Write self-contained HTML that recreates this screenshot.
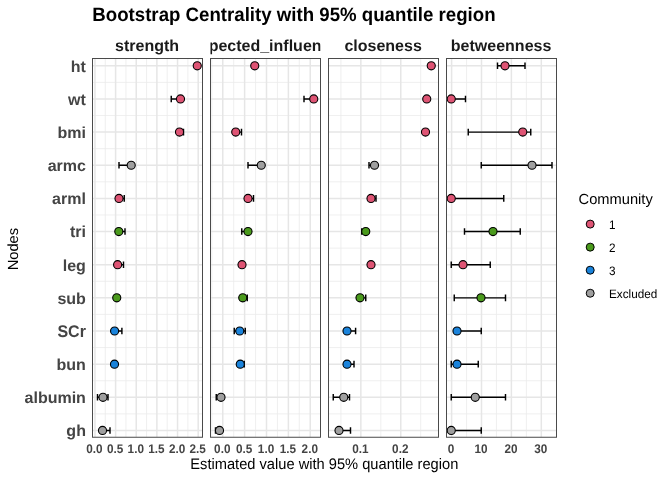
<!DOCTYPE html>
<html lang="en"><head><meta charset="utf-8"><title>Bootstrap Centrality</title>
<style>html,body{margin:0;padding:0;background:#fff}svg{display:block}text{font-family:"Liberation Sans",Arial,Helvetica,sans-serif;text-rendering:geometricPrecision}</style></head><body>
<svg width="672" height="480" viewBox="0 0 672 480">
<rect width="672" height="480" fill="#fff"/>
<defs>
<clipPath id="c0"><rect x="92.50" y="58.5" width="110.00" height="378.75"/></clipPath>
<clipPath id="c1"><rect x="210.50" y="58.5" width="110.00" height="378.75"/></clipPath>
<clipPath id="c2"><rect x="328.50" y="58.5" width="110.00" height="378.75"/></clipPath>
<clipPath id="c3"><rect x="446.50" y="58.5" width="110.00" height="378.75"/></clipPath>
</defs>
<text transform="translate(92.3,21.05) scale(1,1.035)" font-size="18.67" font-weight="bold" fill="#000">Bootstrap Centrality with 95% quantile region</text>
<g clip-path="url(#c0)">
<line x1="92.50" x2="202.50" y1="82.38" y2="82.38" stroke="#EBEBEB" stroke-width="0.8"/>
<line x1="92.50" x2="202.50" y1="115.52" y2="115.52" stroke="#EBEBEB" stroke-width="0.8"/>
<line x1="92.50" x2="202.50" y1="148.67" y2="148.67" stroke="#EBEBEB" stroke-width="0.8"/>
<line x1="92.50" x2="202.50" y1="181.82" y2="181.82" stroke="#EBEBEB" stroke-width="0.8"/>
<line x1="92.50" x2="202.50" y1="214.97" y2="214.97" stroke="#EBEBEB" stroke-width="0.8"/>
<line x1="92.50" x2="202.50" y1="248.12" y2="248.12" stroke="#EBEBEB" stroke-width="0.8"/>
<line x1="92.50" x2="202.50" y1="281.27" y2="281.27" stroke="#EBEBEB" stroke-width="0.8"/>
<line x1="92.50" x2="202.50" y1="314.42" y2="314.42" stroke="#EBEBEB" stroke-width="0.8"/>
<line x1="92.50" x2="202.50" y1="347.57" y2="347.57" stroke="#EBEBEB" stroke-width="0.8"/>
<line x1="92.50" x2="202.50" y1="380.72" y2="380.72" stroke="#EBEBEB" stroke-width="0.8"/>
<line x1="92.50" x2="202.50" y1="413.88" y2="413.88" stroke="#EBEBEB" stroke-width="0.8"/>
<line x1="105.28" x2="105.28" y1="58.5" y2="437.25" stroke="#EBEBEB" stroke-width="0.8"/>
<line x1="125.92" x2="125.92" y1="58.5" y2="437.25" stroke="#EBEBEB" stroke-width="0.8"/>
<line x1="146.57" x2="146.57" y1="58.5" y2="437.25" stroke="#EBEBEB" stroke-width="0.8"/>
<line x1="167.22" x2="167.22" y1="58.5" y2="437.25" stroke="#EBEBEB" stroke-width="0.8"/>
<line x1="187.88" x2="187.88" y1="58.5" y2="437.25" stroke="#EBEBEB" stroke-width="0.8"/>
<line x1="92.50" x2="202.50" y1="65.80" y2="65.80" stroke="#E6E6E6" stroke-width="1.5"/>
<line x1="92.50" x2="202.50" y1="98.95" y2="98.95" stroke="#E6E6E6" stroke-width="1.5"/>
<line x1="92.50" x2="202.50" y1="132.10" y2="132.10" stroke="#E6E6E6" stroke-width="1.5"/>
<line x1="92.50" x2="202.50" y1="165.25" y2="165.25" stroke="#E6E6E6" stroke-width="1.5"/>
<line x1="92.50" x2="202.50" y1="198.40" y2="198.40" stroke="#E6E6E6" stroke-width="1.5"/>
<line x1="92.50" x2="202.50" y1="231.55" y2="231.55" stroke="#E6E6E6" stroke-width="1.5"/>
<line x1="92.50" x2="202.50" y1="264.70" y2="264.70" stroke="#E6E6E6" stroke-width="1.5"/>
<line x1="92.50" x2="202.50" y1="297.85" y2="297.85" stroke="#E6E6E6" stroke-width="1.5"/>
<line x1="92.50" x2="202.50" y1="331.00" y2="331.00" stroke="#E6E6E6" stroke-width="1.5"/>
<line x1="92.50" x2="202.50" y1="364.15" y2="364.15" stroke="#E6E6E6" stroke-width="1.5"/>
<line x1="92.50" x2="202.50" y1="397.30" y2="397.30" stroke="#E6E6E6" stroke-width="1.5"/>
<line x1="92.50" x2="202.50" y1="430.45" y2="430.45" stroke="#E6E6E6" stroke-width="1.5"/>
<line x1="94.95" x2="94.95" y1="58.5" y2="437.25" stroke="#E6E6E6" stroke-width="1.5"/>
<line x1="115.60" x2="115.60" y1="58.5" y2="437.25" stroke="#E6E6E6" stroke-width="1.5"/>
<line x1="136.25" x2="136.25" y1="58.5" y2="437.25" stroke="#E6E6E6" stroke-width="1.5"/>
<line x1="156.90" x2="156.90" y1="58.5" y2="437.25" stroke="#E6E6E6" stroke-width="1.5"/>
<line x1="177.55" x2="177.55" y1="58.5" y2="437.25" stroke="#E6E6E6" stroke-width="1.5"/>
<line x1="198.20" x2="198.20" y1="58.5" y2="437.25" stroke="#E6E6E6" stroke-width="1.5"/>
<line x1="171.25" x2="180.50" y1="98.95" y2="98.95" stroke="#000" stroke-width="1.45"/>
<line x1="171.25" x2="171.25" y1="95.65" y2="102.25" stroke="#000" stroke-width="1.45"/>
<line x1="179.50" x2="183.50" y1="132.10" y2="132.10" stroke="#000" stroke-width="1.45"/>
<line x1="183.50" x2="183.50" y1="128.80" y2="135.40" stroke="#000" stroke-width="1.45"/>
<line x1="119.00" x2="131.20" y1="165.25" y2="165.25" stroke="#000" stroke-width="1.45"/>
<line x1="119.00" x2="119.00" y1="161.95" y2="168.55" stroke="#000" stroke-width="1.45"/>
<line x1="119.00" x2="124.25" y1="198.40" y2="198.40" stroke="#000" stroke-width="1.45"/>
<line x1="124.25" x2="124.25" y1="195.10" y2="201.70" stroke="#000" stroke-width="1.45"/>
<line x1="118.80" x2="125.00" y1="231.55" y2="231.55" stroke="#000" stroke-width="1.45"/>
<line x1="125.00" x2="125.00" y1="228.25" y2="234.85" stroke="#000" stroke-width="1.45"/>
<line x1="117.60" x2="123.50" y1="264.70" y2="264.70" stroke="#000" stroke-width="1.45"/>
<line x1="123.50" x2="123.50" y1="261.40" y2="268.00" stroke="#000" stroke-width="1.45"/>
<line x1="114.60" x2="121.90" y1="331.00" y2="331.00" stroke="#000" stroke-width="1.45"/>
<line x1="121.90" x2="121.90" y1="327.70" y2="334.30" stroke="#000" stroke-width="1.45"/>
<line x1="97.50" x2="108.00" y1="397.30" y2="397.30" stroke="#000" stroke-width="1.45"/>
<line x1="97.50" x2="97.50" y1="394.00" y2="400.60" stroke="#000" stroke-width="1.45"/>
<line x1="108.00" x2="108.00" y1="394.00" y2="400.60" stroke="#000" stroke-width="1.45"/>
<line x1="102.50" x2="110.00" y1="430.45" y2="430.45" stroke="#000" stroke-width="1.45"/>
<line x1="110.00" x2="110.00" y1="427.15" y2="433.75" stroke="#000" stroke-width="1.45"/>
<circle cx="197.25" cy="65.80" r="4.05" fill="#DE5474" stroke="#000" stroke-width="1.1"/>
<circle cx="180.50" cy="98.95" r="4.05" fill="#DE5474" stroke="#000" stroke-width="1.1"/>
<circle cx="179.50" cy="132.10" r="4.05" fill="#DE5474" stroke="#000" stroke-width="1.1"/>
<circle cx="131.20" cy="165.25" r="4.05" fill="#9F9F9F" stroke="#000" stroke-width="1.1"/>
<circle cx="119.00" cy="198.40" r="4.05" fill="#DE5474" stroke="#000" stroke-width="1.1"/>
<circle cx="118.80" cy="231.55" r="4.05" fill="#4A9A1C" stroke="#000" stroke-width="1.1"/>
<circle cx="117.60" cy="264.70" r="4.05" fill="#DE5474" stroke="#000" stroke-width="1.1"/>
<circle cx="116.75" cy="297.85" r="4.05" fill="#4A9A1C" stroke="#000" stroke-width="1.1"/>
<circle cx="114.60" cy="331.00" r="4.05" fill="#1A83DB" stroke="#000" stroke-width="1.1"/>
<circle cx="114.50" cy="364.15" r="4.05" fill="#1A83DB" stroke="#000" stroke-width="1.1"/>
<circle cx="103.00" cy="397.30" r="4.05" fill="#9F9F9F" stroke="#000" stroke-width="1.1"/>
<circle cx="102.50" cy="430.45" r="4.05" fill="#9F9F9F" stroke="#000" stroke-width="1.1"/>
</g>
<rect x="92.50" y="58.5" width="110.00" height="378.75" fill="none" stroke="#4A4A4A" stroke-width="1"/>
<svg x="92.50" y="36" width="110.00" height="22" viewBox="92.50 36 110.00 22" overflow="hidden"><text x="147.10" y="50.85" font-size="16" font-weight="bold" fill="#1A1A1A" text-anchor="middle">strength</text></svg>
<text transform="translate(94.45,452.6) scale(1,1.07)" font-size="11.73" font-weight="bold" fill="#444" text-anchor="middle">0.0</text>
<text transform="translate(115.10,452.6) scale(1,1.07)" font-size="11.73" font-weight="bold" fill="#444" text-anchor="middle">0.5</text>
<text transform="translate(135.75,452.6) scale(1,1.07)" font-size="11.73" font-weight="bold" fill="#444" text-anchor="middle">1.0</text>
<text transform="translate(156.40,452.6) scale(1,1.07)" font-size="11.73" font-weight="bold" fill="#444" text-anchor="middle">1.5</text>
<text transform="translate(177.05,452.6) scale(1,1.07)" font-size="11.73" font-weight="bold" fill="#444" text-anchor="middle">2.0</text>
<text transform="translate(197.70,452.6) scale(1,1.07)" font-size="11.73" font-weight="bold" fill="#444" text-anchor="middle">2.5</text>
<g clip-path="url(#c1)">
<line x1="210.50" x2="320.50" y1="82.38" y2="82.38" stroke="#EBEBEB" stroke-width="0.8"/>
<line x1="210.50" x2="320.50" y1="115.52" y2="115.52" stroke="#EBEBEB" stroke-width="0.8"/>
<line x1="210.50" x2="320.50" y1="148.67" y2="148.67" stroke="#EBEBEB" stroke-width="0.8"/>
<line x1="210.50" x2="320.50" y1="181.82" y2="181.82" stroke="#EBEBEB" stroke-width="0.8"/>
<line x1="210.50" x2="320.50" y1="214.97" y2="214.97" stroke="#EBEBEB" stroke-width="0.8"/>
<line x1="210.50" x2="320.50" y1="248.12" y2="248.12" stroke="#EBEBEB" stroke-width="0.8"/>
<line x1="210.50" x2="320.50" y1="281.27" y2="281.27" stroke="#EBEBEB" stroke-width="0.8"/>
<line x1="210.50" x2="320.50" y1="314.42" y2="314.42" stroke="#EBEBEB" stroke-width="0.8"/>
<line x1="210.50" x2="320.50" y1="347.57" y2="347.57" stroke="#EBEBEB" stroke-width="0.8"/>
<line x1="210.50" x2="320.50" y1="380.72" y2="380.72" stroke="#EBEBEB" stroke-width="0.8"/>
<line x1="210.50" x2="320.50" y1="413.88" y2="413.88" stroke="#EBEBEB" stroke-width="0.8"/>
<line x1="211.81" x2="211.81" y1="58.5" y2="437.25" stroke="#EBEBEB" stroke-width="0.8"/>
<line x1="233.69" x2="233.69" y1="58.5" y2="437.25" stroke="#EBEBEB" stroke-width="0.8"/>
<line x1="255.56" x2="255.56" y1="58.5" y2="437.25" stroke="#EBEBEB" stroke-width="0.8"/>
<line x1="277.44" x2="277.44" y1="58.5" y2="437.25" stroke="#EBEBEB" stroke-width="0.8"/>
<line x1="299.31" x2="299.31" y1="58.5" y2="437.25" stroke="#EBEBEB" stroke-width="0.8"/>
<line x1="210.50" x2="320.50" y1="65.80" y2="65.80" stroke="#E6E6E6" stroke-width="1.5"/>
<line x1="210.50" x2="320.50" y1="98.95" y2="98.95" stroke="#E6E6E6" stroke-width="1.5"/>
<line x1="210.50" x2="320.50" y1="132.10" y2="132.10" stroke="#E6E6E6" stroke-width="1.5"/>
<line x1="210.50" x2="320.50" y1="165.25" y2="165.25" stroke="#E6E6E6" stroke-width="1.5"/>
<line x1="210.50" x2="320.50" y1="198.40" y2="198.40" stroke="#E6E6E6" stroke-width="1.5"/>
<line x1="210.50" x2="320.50" y1="231.55" y2="231.55" stroke="#E6E6E6" stroke-width="1.5"/>
<line x1="210.50" x2="320.50" y1="264.70" y2="264.70" stroke="#E6E6E6" stroke-width="1.5"/>
<line x1="210.50" x2="320.50" y1="297.85" y2="297.85" stroke="#E6E6E6" stroke-width="1.5"/>
<line x1="210.50" x2="320.50" y1="331.00" y2="331.00" stroke="#E6E6E6" stroke-width="1.5"/>
<line x1="210.50" x2="320.50" y1="364.15" y2="364.15" stroke="#E6E6E6" stroke-width="1.5"/>
<line x1="210.50" x2="320.50" y1="397.30" y2="397.30" stroke="#E6E6E6" stroke-width="1.5"/>
<line x1="210.50" x2="320.50" y1="430.45" y2="430.45" stroke="#E6E6E6" stroke-width="1.5"/>
<line x1="222.75" x2="222.75" y1="58.5" y2="437.25" stroke="#E6E6E6" stroke-width="1.5"/>
<line x1="244.62" x2="244.62" y1="58.5" y2="437.25" stroke="#E6E6E6" stroke-width="1.5"/>
<line x1="266.50" x2="266.50" y1="58.5" y2="437.25" stroke="#E6E6E6" stroke-width="1.5"/>
<line x1="288.38" x2="288.38" y1="58.5" y2="437.25" stroke="#E6E6E6" stroke-width="1.5"/>
<line x1="310.25" x2="310.25" y1="58.5" y2="437.25" stroke="#E6E6E6" stroke-width="1.5"/>
<line x1="304.00" x2="313.75" y1="98.95" y2="98.95" stroke="#000" stroke-width="1.45"/>
<line x1="304.00" x2="304.00" y1="95.65" y2="102.25" stroke="#000" stroke-width="1.45"/>
<line x1="235.75" x2="241.50" y1="132.10" y2="132.10" stroke="#000" stroke-width="1.45"/>
<line x1="241.50" x2="241.50" y1="128.80" y2="135.40" stroke="#000" stroke-width="1.45"/>
<line x1="248.00" x2="261.25" y1="165.25" y2="165.25" stroke="#000" stroke-width="1.45"/>
<line x1="248.00" x2="248.00" y1="161.95" y2="168.55" stroke="#000" stroke-width="1.45"/>
<line x1="248.00" x2="253.50" y1="198.40" y2="198.40" stroke="#000" stroke-width="1.45"/>
<line x1="253.50" x2="253.50" y1="195.10" y2="201.70" stroke="#000" stroke-width="1.45"/>
<line x1="241.75" x2="248.00" y1="231.55" y2="231.55" stroke="#000" stroke-width="1.45"/>
<line x1="241.75" x2="241.75" y1="228.25" y2="234.85" stroke="#000" stroke-width="1.45"/>
<line x1="242.75" x2="247.25" y1="297.85" y2="297.85" stroke="#000" stroke-width="1.45"/>
<line x1="247.25" x2="247.25" y1="294.55" y2="301.15" stroke="#000" stroke-width="1.45"/>
<line x1="234.25" x2="245.25" y1="331.00" y2="331.00" stroke="#000" stroke-width="1.45"/>
<line x1="234.25" x2="234.25" y1="327.70" y2="334.30" stroke="#000" stroke-width="1.45"/>
<line x1="245.25" x2="245.25" y1="327.70" y2="334.30" stroke="#000" stroke-width="1.45"/>
<line x1="240.25" x2="244.25" y1="364.15" y2="364.15" stroke="#000" stroke-width="1.45"/>
<line x1="244.25" x2="244.25" y1="360.85" y2="367.45" stroke="#000" stroke-width="1.45"/>
<line x1="216.25" x2="221.00" y1="397.30" y2="397.30" stroke="#000" stroke-width="1.45"/>
<line x1="216.25" x2="216.25" y1="394.00" y2="400.60" stroke="#000" stroke-width="1.45"/>
<line x1="215.50" x2="219.50" y1="430.45" y2="430.45" stroke="#000" stroke-width="1.45"/>
<line x1="215.50" x2="215.50" y1="427.15" y2="433.75" stroke="#000" stroke-width="1.45"/>
<circle cx="254.75" cy="65.80" r="4.05" fill="#DE5474" stroke="#000" stroke-width="1.1"/>
<circle cx="313.75" cy="98.95" r="4.05" fill="#DE5474" stroke="#000" stroke-width="1.1"/>
<circle cx="235.75" cy="132.10" r="4.05" fill="#DE5474" stroke="#000" stroke-width="1.1"/>
<circle cx="261.25" cy="165.25" r="4.05" fill="#9F9F9F" stroke="#000" stroke-width="1.1"/>
<circle cx="248.00" cy="198.40" r="4.05" fill="#DE5474" stroke="#000" stroke-width="1.1"/>
<circle cx="248.00" cy="231.55" r="4.05" fill="#4A9A1C" stroke="#000" stroke-width="1.1"/>
<circle cx="242.00" cy="264.70" r="4.05" fill="#DE5474" stroke="#000" stroke-width="1.1"/>
<circle cx="242.75" cy="297.85" r="4.05" fill="#4A9A1C" stroke="#000" stroke-width="1.1"/>
<circle cx="239.75" cy="331.00" r="4.05" fill="#1A83DB" stroke="#000" stroke-width="1.1"/>
<circle cx="240.25" cy="364.15" r="4.05" fill="#1A83DB" stroke="#000" stroke-width="1.1"/>
<circle cx="221.00" cy="397.30" r="4.05" fill="#9F9F9F" stroke="#000" stroke-width="1.1"/>
<circle cx="219.50" cy="430.45" r="4.05" fill="#9F9F9F" stroke="#000" stroke-width="1.1"/>
</g>
<rect x="210.50" y="58.5" width="110.00" height="378.75" fill="none" stroke="#4A4A4A" stroke-width="1"/>
<svg x="210.50" y="36" width="110.00" height="22" viewBox="210.50 36 110.00 22" overflow="hidden"><text x="265.10" y="50.85" font-size="16" font-weight="bold" fill="#1A1A1A" text-anchor="middle">expected_influence</text></svg>
<text transform="translate(222.25,452.6) scale(1,1.07)" font-size="11.73" font-weight="bold" fill="#444" text-anchor="middle">0.0</text>
<text transform="translate(244.12,452.6) scale(1,1.07)" font-size="11.73" font-weight="bold" fill="#444" text-anchor="middle">0.5</text>
<text transform="translate(266.00,452.6) scale(1,1.07)" font-size="11.73" font-weight="bold" fill="#444" text-anchor="middle">1.0</text>
<text transform="translate(287.88,452.6) scale(1,1.07)" font-size="11.73" font-weight="bold" fill="#444" text-anchor="middle">1.5</text>
<text transform="translate(309.75,452.6) scale(1,1.07)" font-size="11.73" font-weight="bold" fill="#444" text-anchor="middle">2.0</text>
<g clip-path="url(#c2)">
<line x1="328.50" x2="438.50" y1="82.38" y2="82.38" stroke="#EBEBEB" stroke-width="0.8"/>
<line x1="328.50" x2="438.50" y1="115.52" y2="115.52" stroke="#EBEBEB" stroke-width="0.8"/>
<line x1="328.50" x2="438.50" y1="148.67" y2="148.67" stroke="#EBEBEB" stroke-width="0.8"/>
<line x1="328.50" x2="438.50" y1="181.82" y2="181.82" stroke="#EBEBEB" stroke-width="0.8"/>
<line x1="328.50" x2="438.50" y1="214.97" y2="214.97" stroke="#EBEBEB" stroke-width="0.8"/>
<line x1="328.50" x2="438.50" y1="248.12" y2="248.12" stroke="#EBEBEB" stroke-width="0.8"/>
<line x1="328.50" x2="438.50" y1="281.27" y2="281.27" stroke="#EBEBEB" stroke-width="0.8"/>
<line x1="328.50" x2="438.50" y1="314.42" y2="314.42" stroke="#EBEBEB" stroke-width="0.8"/>
<line x1="328.50" x2="438.50" y1="347.57" y2="347.57" stroke="#EBEBEB" stroke-width="0.8"/>
<line x1="328.50" x2="438.50" y1="380.72" y2="380.72" stroke="#EBEBEB" stroke-width="0.8"/>
<line x1="328.50" x2="438.50" y1="413.88" y2="413.88" stroke="#EBEBEB" stroke-width="0.8"/>
<line x1="340.90" x2="340.90" y1="58.5" y2="437.25" stroke="#EBEBEB" stroke-width="0.8"/>
<line x1="380.80" x2="380.80" y1="58.5" y2="437.25" stroke="#EBEBEB" stroke-width="0.8"/>
<line x1="420.70" x2="420.70" y1="58.5" y2="437.25" stroke="#EBEBEB" stroke-width="0.8"/>
<line x1="328.50" x2="438.50" y1="65.80" y2="65.80" stroke="#E6E6E6" stroke-width="1.5"/>
<line x1="328.50" x2="438.50" y1="98.95" y2="98.95" stroke="#E6E6E6" stroke-width="1.5"/>
<line x1="328.50" x2="438.50" y1="132.10" y2="132.10" stroke="#E6E6E6" stroke-width="1.5"/>
<line x1="328.50" x2="438.50" y1="165.25" y2="165.25" stroke="#E6E6E6" stroke-width="1.5"/>
<line x1="328.50" x2="438.50" y1="198.40" y2="198.40" stroke="#E6E6E6" stroke-width="1.5"/>
<line x1="328.50" x2="438.50" y1="231.55" y2="231.55" stroke="#E6E6E6" stroke-width="1.5"/>
<line x1="328.50" x2="438.50" y1="264.70" y2="264.70" stroke="#E6E6E6" stroke-width="1.5"/>
<line x1="328.50" x2="438.50" y1="297.85" y2="297.85" stroke="#E6E6E6" stroke-width="1.5"/>
<line x1="328.50" x2="438.50" y1="331.00" y2="331.00" stroke="#E6E6E6" stroke-width="1.5"/>
<line x1="328.50" x2="438.50" y1="364.15" y2="364.15" stroke="#E6E6E6" stroke-width="1.5"/>
<line x1="328.50" x2="438.50" y1="397.30" y2="397.30" stroke="#E6E6E6" stroke-width="1.5"/>
<line x1="328.50" x2="438.50" y1="430.45" y2="430.45" stroke="#E6E6E6" stroke-width="1.5"/>
<line x1="360.85" x2="360.85" y1="58.5" y2="437.25" stroke="#E6E6E6" stroke-width="1.5"/>
<line x1="400.75" x2="400.75" y1="58.5" y2="437.25" stroke="#E6E6E6" stroke-width="1.5"/>
<line x1="369.00" x2="374.50" y1="165.25" y2="165.25" stroke="#000" stroke-width="1.45"/>
<line x1="369.00" x2="369.00" y1="161.95" y2="168.55" stroke="#000" stroke-width="1.45"/>
<line x1="371.00" x2="376.00" y1="198.40" y2="198.40" stroke="#000" stroke-width="1.45"/>
<line x1="376.00" x2="376.00" y1="195.10" y2="201.70" stroke="#000" stroke-width="1.45"/>
<line x1="361.75" x2="365.75" y1="231.55" y2="231.55" stroke="#000" stroke-width="1.45"/>
<line x1="361.75" x2="361.75" y1="228.25" y2="234.85" stroke="#000" stroke-width="1.45"/>
<line x1="360.00" x2="365.75" y1="297.85" y2="297.85" stroke="#000" stroke-width="1.45"/>
<line x1="365.75" x2="365.75" y1="294.55" y2="301.15" stroke="#000" stroke-width="1.45"/>
<line x1="347.00" x2="355.60" y1="331.00" y2="331.00" stroke="#000" stroke-width="1.45"/>
<line x1="355.60" x2="355.60" y1="327.70" y2="334.30" stroke="#000" stroke-width="1.45"/>
<line x1="347.00" x2="354.00" y1="364.15" y2="364.15" stroke="#000" stroke-width="1.45"/>
<line x1="354.00" x2="354.00" y1="360.85" y2="367.45" stroke="#000" stroke-width="1.45"/>
<line x1="333.25" x2="349.50" y1="397.30" y2="397.30" stroke="#000" stroke-width="1.45"/>
<line x1="333.25" x2="333.25" y1="394.00" y2="400.60" stroke="#000" stroke-width="1.45"/>
<line x1="349.50" x2="349.50" y1="394.00" y2="400.60" stroke="#000" stroke-width="1.45"/>
<line x1="339.00" x2="350.50" y1="430.45" y2="430.45" stroke="#000" stroke-width="1.45"/>
<line x1="350.50" x2="350.50" y1="427.15" y2="433.75" stroke="#000" stroke-width="1.45"/>
<circle cx="431.25" cy="65.80" r="4.05" fill="#DE5474" stroke="#000" stroke-width="1.1"/>
<circle cx="426.75" cy="98.95" r="4.05" fill="#DE5474" stroke="#000" stroke-width="1.1"/>
<circle cx="425.50" cy="132.10" r="4.05" fill="#DE5474" stroke="#000" stroke-width="1.1"/>
<circle cx="374.50" cy="165.25" r="4.05" fill="#9F9F9F" stroke="#000" stroke-width="1.1"/>
<circle cx="371.00" cy="198.40" r="4.05" fill="#DE5474" stroke="#000" stroke-width="1.1"/>
<circle cx="365.75" cy="231.55" r="4.05" fill="#4A9A1C" stroke="#000" stroke-width="1.1"/>
<circle cx="371.00" cy="264.70" r="4.05" fill="#DE5474" stroke="#000" stroke-width="1.1"/>
<circle cx="360.00" cy="297.85" r="4.05" fill="#4A9A1C" stroke="#000" stroke-width="1.1"/>
<circle cx="347.00" cy="331.00" r="4.05" fill="#1A83DB" stroke="#000" stroke-width="1.1"/>
<circle cx="347.00" cy="364.15" r="4.05" fill="#1A83DB" stroke="#000" stroke-width="1.1"/>
<circle cx="343.75" cy="397.30" r="4.05" fill="#9F9F9F" stroke="#000" stroke-width="1.1"/>
<circle cx="339.00" cy="430.45" r="4.05" fill="#9F9F9F" stroke="#000" stroke-width="1.1"/>
</g>
<rect x="328.50" y="58.5" width="110.00" height="378.75" fill="none" stroke="#4A4A4A" stroke-width="1"/>
<svg x="328.50" y="36" width="110.00" height="22" viewBox="328.50 36 110.00 22" overflow="hidden"><text x="383.10" y="50.85" font-size="16" font-weight="bold" fill="#1A1A1A" text-anchor="middle">closeness</text></svg>
<text transform="translate(360.35,452.6) scale(1,1.07)" font-size="11.73" font-weight="bold" fill="#444" text-anchor="middle">0.1</text>
<text transform="translate(400.25,452.6) scale(1,1.07)" font-size="11.73" font-weight="bold" fill="#444" text-anchor="middle">0.2</text>
<g clip-path="url(#c3)">
<line x1="446.50" x2="556.50" y1="82.38" y2="82.38" stroke="#EBEBEB" stroke-width="0.8"/>
<line x1="446.50" x2="556.50" y1="115.52" y2="115.52" stroke="#EBEBEB" stroke-width="0.8"/>
<line x1="446.50" x2="556.50" y1="148.67" y2="148.67" stroke="#EBEBEB" stroke-width="0.8"/>
<line x1="446.50" x2="556.50" y1="181.82" y2="181.82" stroke="#EBEBEB" stroke-width="0.8"/>
<line x1="446.50" x2="556.50" y1="214.97" y2="214.97" stroke="#EBEBEB" stroke-width="0.8"/>
<line x1="446.50" x2="556.50" y1="248.12" y2="248.12" stroke="#EBEBEB" stroke-width="0.8"/>
<line x1="446.50" x2="556.50" y1="281.27" y2="281.27" stroke="#EBEBEB" stroke-width="0.8"/>
<line x1="446.50" x2="556.50" y1="314.42" y2="314.42" stroke="#EBEBEB" stroke-width="0.8"/>
<line x1="446.50" x2="556.50" y1="347.57" y2="347.57" stroke="#EBEBEB" stroke-width="0.8"/>
<line x1="446.50" x2="556.50" y1="380.72" y2="380.72" stroke="#EBEBEB" stroke-width="0.8"/>
<line x1="446.50" x2="556.50" y1="413.88" y2="413.88" stroke="#EBEBEB" stroke-width="0.8"/>
<line x1="466.55" x2="466.55" y1="58.5" y2="437.25" stroke="#EBEBEB" stroke-width="0.8"/>
<line x1="496.45" x2="496.45" y1="58.5" y2="437.25" stroke="#EBEBEB" stroke-width="0.8"/>
<line x1="526.35" x2="526.35" y1="58.5" y2="437.25" stroke="#EBEBEB" stroke-width="0.8"/>
<line x1="446.50" x2="556.50" y1="65.80" y2="65.80" stroke="#E6E6E6" stroke-width="1.5"/>
<line x1="446.50" x2="556.50" y1="98.95" y2="98.95" stroke="#E6E6E6" stroke-width="1.5"/>
<line x1="446.50" x2="556.50" y1="132.10" y2="132.10" stroke="#E6E6E6" stroke-width="1.5"/>
<line x1="446.50" x2="556.50" y1="165.25" y2="165.25" stroke="#E6E6E6" stroke-width="1.5"/>
<line x1="446.50" x2="556.50" y1="198.40" y2="198.40" stroke="#E6E6E6" stroke-width="1.5"/>
<line x1="446.50" x2="556.50" y1="231.55" y2="231.55" stroke="#E6E6E6" stroke-width="1.5"/>
<line x1="446.50" x2="556.50" y1="264.70" y2="264.70" stroke="#E6E6E6" stroke-width="1.5"/>
<line x1="446.50" x2="556.50" y1="297.85" y2="297.85" stroke="#E6E6E6" stroke-width="1.5"/>
<line x1="446.50" x2="556.50" y1="331.00" y2="331.00" stroke="#E6E6E6" stroke-width="1.5"/>
<line x1="446.50" x2="556.50" y1="364.15" y2="364.15" stroke="#E6E6E6" stroke-width="1.5"/>
<line x1="446.50" x2="556.50" y1="397.30" y2="397.30" stroke="#E6E6E6" stroke-width="1.5"/>
<line x1="446.50" x2="556.50" y1="430.45" y2="430.45" stroke="#E6E6E6" stroke-width="1.5"/>
<line x1="451.60" x2="451.60" y1="58.5" y2="437.25" stroke="#E6E6E6" stroke-width="1.5"/>
<line x1="481.50" x2="481.50" y1="58.5" y2="437.25" stroke="#E6E6E6" stroke-width="1.5"/>
<line x1="511.40" x2="511.40" y1="58.5" y2="437.25" stroke="#E6E6E6" stroke-width="1.5"/>
<line x1="541.30" x2="541.30" y1="58.5" y2="437.25" stroke="#E6E6E6" stroke-width="1.5"/>
<line x1="497.50" x2="525.00" y1="65.80" y2="65.80" stroke="#000" stroke-width="1.45"/>
<line x1="497.50" x2="497.50" y1="62.50" y2="69.10" stroke="#000" stroke-width="1.45"/>
<line x1="525.00" x2="525.00" y1="62.50" y2="69.10" stroke="#000" stroke-width="1.45"/>
<line x1="451.25" x2="465.50" y1="98.95" y2="98.95" stroke="#000" stroke-width="1.45"/>
<line x1="465.50" x2="465.50" y1="95.65" y2="102.25" stroke="#000" stroke-width="1.45"/>
<line x1="468.25" x2="530.75" y1="132.10" y2="132.10" stroke="#000" stroke-width="1.45"/>
<line x1="468.25" x2="468.25" y1="128.80" y2="135.40" stroke="#000" stroke-width="1.45"/>
<line x1="530.75" x2="530.75" y1="128.80" y2="135.40" stroke="#000" stroke-width="1.45"/>
<line x1="481.25" x2="552.00" y1="165.25" y2="165.25" stroke="#000" stroke-width="1.45"/>
<line x1="481.25" x2="481.25" y1="161.95" y2="168.55" stroke="#000" stroke-width="1.45"/>
<line x1="552.00" x2="552.00" y1="161.95" y2="168.55" stroke="#000" stroke-width="1.45"/>
<line x1="451.25" x2="503.75" y1="198.40" y2="198.40" stroke="#000" stroke-width="1.45"/>
<line x1="503.75" x2="503.75" y1="195.10" y2="201.70" stroke="#000" stroke-width="1.45"/>
<line x1="464.50" x2="520.25" y1="231.55" y2="231.55" stroke="#000" stroke-width="1.45"/>
<line x1="464.50" x2="464.50" y1="228.25" y2="234.85" stroke="#000" stroke-width="1.45"/>
<line x1="520.25" x2="520.25" y1="228.25" y2="234.85" stroke="#000" stroke-width="1.45"/>
<line x1="451.25" x2="490.25" y1="264.70" y2="264.70" stroke="#000" stroke-width="1.45"/>
<line x1="451.25" x2="451.25" y1="261.40" y2="268.00" stroke="#000" stroke-width="1.45"/>
<line x1="490.25" x2="490.25" y1="261.40" y2="268.00" stroke="#000" stroke-width="1.45"/>
<line x1="454.25" x2="505.50" y1="297.85" y2="297.85" stroke="#000" stroke-width="1.45"/>
<line x1="454.25" x2="454.25" y1="294.55" y2="301.15" stroke="#000" stroke-width="1.45"/>
<line x1="505.50" x2="505.50" y1="294.55" y2="301.15" stroke="#000" stroke-width="1.45"/>
<line x1="457.00" x2="481.25" y1="331.00" y2="331.00" stroke="#000" stroke-width="1.45"/>
<line x1="481.25" x2="481.25" y1="327.70" y2="334.30" stroke="#000" stroke-width="1.45"/>
<line x1="451.25" x2="478.25" y1="364.15" y2="364.15" stroke="#000" stroke-width="1.45"/>
<line x1="451.25" x2="451.25" y1="360.85" y2="367.45" stroke="#000" stroke-width="1.45"/>
<line x1="478.25" x2="478.25" y1="360.85" y2="367.45" stroke="#000" stroke-width="1.45"/>
<line x1="451.25" x2="505.50" y1="397.30" y2="397.30" stroke="#000" stroke-width="1.45"/>
<line x1="451.25" x2="451.25" y1="394.00" y2="400.60" stroke="#000" stroke-width="1.45"/>
<line x1="505.50" x2="505.50" y1="394.00" y2="400.60" stroke="#000" stroke-width="1.45"/>
<line x1="451.25" x2="481.25" y1="430.45" y2="430.45" stroke="#000" stroke-width="1.45"/>
<line x1="481.25" x2="481.25" y1="427.15" y2="433.75" stroke="#000" stroke-width="1.45"/>
<circle cx="505.00" cy="65.80" r="4.05" fill="#DE5474" stroke="#000" stroke-width="1.1"/>
<circle cx="451.25" cy="98.95" r="4.05" fill="#DE5474" stroke="#000" stroke-width="1.1"/>
<circle cx="522.75" cy="132.10" r="4.05" fill="#DE5474" stroke="#000" stroke-width="1.1"/>
<circle cx="532.00" cy="165.25" r="4.05" fill="#9F9F9F" stroke="#000" stroke-width="1.1"/>
<circle cx="451.25" cy="198.40" r="4.05" fill="#DE5474" stroke="#000" stroke-width="1.1"/>
<circle cx="493.00" cy="231.55" r="4.05" fill="#4A9A1C" stroke="#000" stroke-width="1.1"/>
<circle cx="463.00" cy="264.70" r="4.05" fill="#DE5474" stroke="#000" stroke-width="1.1"/>
<circle cx="481.00" cy="297.85" r="4.05" fill="#4A9A1C" stroke="#000" stroke-width="1.1"/>
<circle cx="457.00" cy="331.00" r="4.05" fill="#1A83DB" stroke="#000" stroke-width="1.1"/>
<circle cx="457.00" cy="364.15" r="4.05" fill="#1A83DB" stroke="#000" stroke-width="1.1"/>
<circle cx="475.25" cy="397.30" r="4.05" fill="#9F9F9F" stroke="#000" stroke-width="1.1"/>
<circle cx="451.25" cy="430.45" r="4.05" fill="#9F9F9F" stroke="#000" stroke-width="1.1"/>
</g>
<rect x="446.50" y="58.5" width="110.00" height="378.75" fill="none" stroke="#4A4A4A" stroke-width="1"/>
<svg x="446.50" y="36" width="110.00" height="22" viewBox="446.50 36 110.00 22" overflow="hidden"><text x="501.10" y="50.85" font-size="16" font-weight="bold" fill="#1A1A1A" text-anchor="middle">betweenness</text></svg>
<text transform="translate(451.10,452.6) scale(1,1.07)" font-size="11.73" font-weight="bold" fill="#444" text-anchor="middle">0</text>
<text transform="translate(481.00,452.6) scale(1,1.07)" font-size="11.73" font-weight="bold" fill="#444" text-anchor="middle">10</text>
<text transform="translate(510.90,452.6) scale(1,1.07)" font-size="11.73" font-weight="bold" fill="#444" text-anchor="middle">20</text>
<text transform="translate(540.80,452.6) scale(1,1.07)" font-size="11.73" font-weight="bold" fill="#444" text-anchor="middle">30</text>
<text transform="translate(85.9,71.70) scale(1,1.0)" font-size="16" font-weight="bold" fill="#444" text-anchor="end">ht</text>
<text transform="translate(85.9,104.85) scale(1,1.0)" font-size="16" font-weight="bold" fill="#444" text-anchor="end">wt</text>
<text transform="translate(85.9,138.00) scale(1,1.0)" font-size="16" font-weight="bold" fill="#444" text-anchor="end">bmi</text>
<text transform="translate(85.9,171.15) scale(1,1.0)" font-size="16" font-weight="bold" fill="#444" text-anchor="end">armc</text>
<text transform="translate(85.9,204.30) scale(1,1.0)" font-size="16" font-weight="bold" fill="#444" text-anchor="end">arml</text>
<text transform="translate(85.9,237.45) scale(1,1.0)" font-size="16" font-weight="bold" fill="#444" text-anchor="end">tri</text>
<text transform="translate(85.9,270.60) scale(1,1.0)" font-size="16" font-weight="bold" fill="#444" text-anchor="end">leg</text>
<text transform="translate(85.9,303.75) scale(1,1.0)" font-size="16" font-weight="bold" fill="#444" text-anchor="end">sub</text>
<text transform="translate(85.9,336.90) scale(1,1.055)" font-size="16" font-weight="bold" fill="#444" text-anchor="end">SCr</text>
<text transform="translate(85.9,370.05) scale(1,1.0)" font-size="16" font-weight="bold" fill="#444" text-anchor="end">bun</text>
<text transform="translate(85.9,403.20) scale(1,1.0)" font-size="16" font-weight="bold" fill="#444" text-anchor="end">albumin</text>
<text transform="translate(85.9,436.35) scale(1,1.0)" font-size="16" font-weight="bold" fill="#444" text-anchor="end">gh</text>
<text transform="translate(324.3,469.45) scale(1,1.04)" font-size="14.67" fill="#000" text-anchor="middle">Estimated value with 95% quantile region</text>
<text transform="translate(17.8,249.1) rotate(-90)" font-size="14.67" fill="#000" text-anchor="middle">Nodes</text>
<text x="578.6" y="204.3" font-size="14.67" fill="#000">Community</text>
<circle cx="590.2" cy="224.10" r="4" fill="#DE5474" stroke="#000" stroke-width="1"/>
<text transform="translate(609.0,229.00) scale(1,1.05)" font-size="11.73" fill="#000">1</text>
<circle cx="590.2" cy="247.14" r="4" fill="#4A9A1C" stroke="#000" stroke-width="1"/>
<text transform="translate(609.0,252.04) scale(1,1.05)" font-size="11.73" fill="#000">2</text>
<circle cx="590.2" cy="270.18" r="4" fill="#1A83DB" stroke="#000" stroke-width="1"/>
<text transform="translate(609.0,275.08) scale(1,1.05)" font-size="11.73" fill="#000">3</text>
<circle cx="590.2" cy="293.22" r="4" fill="#9F9F9F" stroke="#000" stroke-width="1"/>
<text transform="translate(609.0,298.12) scale(1,1.03)" font-size="11.73" fill="#000">Excluded</text>
</svg></body></html>
